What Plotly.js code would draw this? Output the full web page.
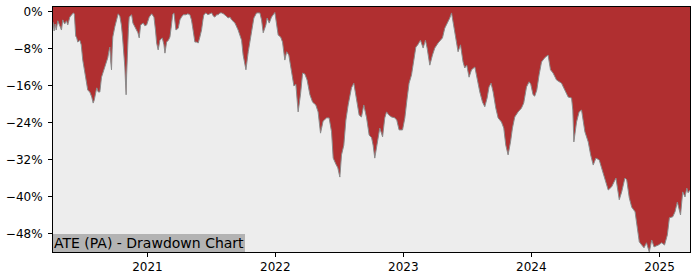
<!DOCTYPE html>
<html>
<head>
<meta charset="utf-8">
<script src="https://cdn.plot.ly/plotly-3.0.1.min.js"></script>
<style>html,body{margin:0;padding:0;background:#fff;}#chart{width:700px;height:280px;}</style>
</head>
<body>
<div id="chart"></div>
<script>
// Dates as decimal years, drawdown in percent
const ddYears = [
2020.264,2020.273,2020.281,2020.289,2020.301,2020.316,2020.330,2020.340,2020.355,2020.369,
2020.379,2020.395,2020.410,2020.422,2020.430,2020.441,2020.449,2020.457,2020.473,2020.484,
2020.496,2020.508,2020.520,2020.527,2020.535,2020.551,2020.566,2020.577,2020.586,2020.598,
2020.605,2020.617,2020.629,2020.642,2020.652,2020.668,2020.684,2020.691,2020.699,2020.707,
2020.713,2020.720,2020.725,2020.730,2020.746,2020.759,2020.772,2020.785,2020.797,2020.806,
2020.816,2020.824,2020.830,2020.834,2020.838,2020.844,2020.852,2020.858,2020.877,2020.887,
2020.898,2020.916,2020.926,2020.936,2020.947,2020.967,2020.980,2020.994,2021.004,2021.014,
2021.033,2021.051,2021.063,2021.072,2021.084,2021.098,2021.116,2021.129,2021.137,2021.150,
2021.164,2021.176,2021.188,2021.197,2021.207,2021.223,2021.241,2021.254,2021.266,2021.280,
2021.301,2021.316,2021.332,2021.344,2021.353,2021.363,2021.371,2021.383,2021.397,2021.410,
2021.423,2021.434,2021.441,2021.457,2021.473,2021.488,2021.502,2021.516,2021.527,2021.541,
2021.553,2021.566,2021.580,2021.594,2021.605,2021.617,2021.631,2021.645,2021.658,2021.684,
2021.709,2021.736,2021.748,2021.770,2021.788,2021.806,2021.832,2021.853,2021.879,2021.892,
2021.905,2021.926,2021.936,2021.952,2021.970,2021.996,2022.009,2022.022,2022.041,2022.056,
2022.074,2022.088,2022.105,2022.127,2022.145,2022.160,2022.178,2022.197,2022.213,2022.230,
2022.248,2022.270,2022.291,2022.316,2022.334,2022.353,2022.373,2022.400,2022.420,2022.439,
2022.452,2022.473,2022.488,2022.504,2022.517,2022.535,2022.551,2022.569,2022.595,2022.613,
2022.634,2022.655,2022.673,2022.691,2022.713,2022.733,2022.752,2022.764,2022.777,2022.795,
2022.816,2022.838,2022.855,2022.869,2022.887,2022.908,2022.934,2022.949,2022.967,2022.994,
2023.012,2023.030,2023.045,2023.064,2023.082,2023.098,2023.113,2023.134,2023.155,2023.173,
2023.186,2023.207,2023.228,2023.246,2023.272,2023.291,2023.306,2023.324,2023.350,2023.363,
2023.377,2023.387,2023.395,2023.410,2023.428,2023.447,2023.467,2023.480,2023.496,2023.514,
2023.533,2023.559,2023.577,2023.598,2023.619,2023.637,2023.655,2023.670,2023.686,2023.702,
2023.723,2023.741,2023.767,2023.785,2023.801,2023.819,2023.838,2023.853,2023.871,2023.897,
2023.923,2023.941,2023.963,2023.983,2023.996,2024.014,2024.027,2024.043,2024.061,2024.080,
2024.105,2024.131,2024.150,2024.170,2024.197,2024.236,2024.262,2024.288,2024.314,2024.324,
2024.332,2024.353,2024.373,2024.392,2024.418,2024.444,2024.463,2024.483,2024.504,2024.530,
2024.548,2024.574,2024.600,2024.627,2024.660,2024.686,2024.705,2024.730,2024.744,2024.764,
2024.783,2024.809,2024.822,2024.842,2024.861,2024.879,2024.898,2024.920,2024.939,2024.957,
2024.973,2024.991,2025.017,2025.039,2025.061,2025.077,2025.103,2025.121,2025.139,2025.155,
2025.164,2025.181,2025.199,2025.213,2025.223,2025.238
];
const ddValues = [
-2.2,-4.1,-2.6,-3.9,-1.9,-3.0,-3.9,-1.7,-2.6,-1.9,
-2.8,-1.1,-0.6,-0.2,-0.4,-5.2,-5.6,-6.5,-6.1,-7.1,
-10.4,-12.5,-15.1,-15.8,-16.9,-17.3,-18.4,-19.7,-19.0,-17.3,
-16.4,-17.3,-17.3,-14.1,-13.2,-11.9,-10.8,-9.9,-8.6,-7.6,
-10.4,-12.5,-8.2,-5.4,-3.2,-1.7,-0.4,-0.9,-2.8,-5.4,
-8.2,-11.9,-15.8,-17.9,-13.6,-8.2,-3.5,-1.1,-0.6,-2.4,
-3.0,-3.9,-4.5,-5.6,-2.8,-2.4,-3.0,-2.8,-1.7,-1.1,
-0.4,-1.1,-3.9,-6.7,-8.2,-6.1,-5.6,-7.1,-8.9,-6.5,
-6.1,-5.4,-2.8,-0.6,-0.2,-3.9,-3.5,-1.7,-1.1,-0.6,
-0.6,-0.4,-0.6,-1.7,-3.2,-5.6,-6.5,-6.5,-6.7,-5.4,
-3.9,-1.7,-0.6,-0.2,-0.6,-0.4,-0.2,-0.9,-1.1,-0.6,
-0.6,-0.2,-0.2,-0.4,-0.6,-0.9,-1.3,-1.1,-1.7,-2.4,
-3.9,-6.1,-9.3,-12.5,-8.6,-5.4,-1.3,-0.2,-0.2,-1.7,
-4.5,-2.8,-1.3,-2.4,-1.1,-0.1,-2.4,-5.0,-5.4,-6.5,
-10.4,-8.6,-9.3,-13.6,-16.0,-15.6,-21.6,-17.7,-13.2,-13.4,
-14.7,-17.9,-19.5,-20.1,-21.6,-26.2,-23.6,-22.9,-22.9,-25.9,
-31.6,-32.9,-33.7,-35.7,-30.9,-28.8,-23.4,-20.1,-16.4,-15.4,
-18.6,-22.3,-22.7,-20.1,-22.9,-26.6,-27.2,-28.8,-31.6,-28.8,
-25.1,-27.0,-22.9,-21.6,-22.3,-22.7,-22.9,-23.4,-25.5,-25.5,
-22.9,-18.6,-15.4,-13.6,-9.9,-7.6,-7.1,-6.1,-7.8,-6.1,
-7.8,-11.5,-9.3,-7.8,-6.7,-6.1,-5.6,-3.5,-2.2,-1.3,
-0.2,-1.7,-3.5,-5.6,-8.6,-7.1,-10.8,-12.1,-11.5,-14.1,
-12.5,-11.9,-14.7,-17.3,-19.5,-20.5,-18.6,-16.2,-15.4,-17.3,
-20.8,-22.9,-23.8,-25.1,-28.8,-30.9,-28.1,-25.1,-22.7,-21.6,
-20.8,-19.7,-16.2,-15.1,-15.6,-17.9,-18.2,-16.9,-13.6,-10.8,
-9.9,-9.3,-12.5,-13.2,-14.7,-15.4,-16.9,-18.4,-18.6,-21.2,
-28.1,-23.8,-21.6,-21.2,-25.9,-28.1,-30.9,-33.1,-31.6,-32.0,
-33.7,-35.9,-38.5,-37.8,-35.9,-40.6,-38.9,-35.9,-36.3,-40.2,
-42.2,-43.2,-46.1,-49.7,-50.4,-51.0,-49.9,-51.9,-49.3,-50.8,
-50.6,-50.4,-49.9,-50.4,-48.2,-44.5,-44.3,-43.2,-41.1,-43.2,
-43.9,-38.9,-40.0,-38.1,-39.1,-38.5
];
const yTickVals = [0, -8, -16, -24, -32, -40, -48];
const yTickText = ["0%", "\u22128%", "\u221216%", "\u221224%", "\u221232%", "\u221240%", "\u221248%"];
const xTickVals = ["2021-01-01", "2022-01-01", "2023-01-01", "2024-01-01", "2025-01-01"];
const xTickText = ["2021", "2022", "2023", "2024", "2025"];
const chartTitle = "ATE (PA) - Drawdown Chart";
const yTop = 1.08, yBottom = -51.9;

function yearToDate(y) {
  const yr = Math.floor(y);
  const s = Date.UTC(yr, 0, 1), e = Date.UTC(yr + 1, 0, 1);
  return new Date(s + (y - yr) * (e - s)).toISOString().slice(0, 19).replace('T', ' ');
}
const ddDates = ddYears.map(yearToDate);
const xStart = ddDates[0], xEnd = ddDates[ddDates.length - 1];

const traces = [
  { x: [xStart, xEnd], y: [yTop + 1, yTop + 1], mode: 'lines', line: { width: 0 }, hoverinfo: 'skip', showlegend: false },
  { x: ddDates, y: ddValues, mode: 'lines', fill: 'tonexty', fillcolor: '#b02f30',
    line: { color: '#8a8a8a', width: 1 }, showlegend: false }
];

const layout = {
  width: 700, height: 280,
  margin: { l: 53, r: 10, t: 7, b: 28, pad: 0 },
  paper_bgcolor: '#ffffff', plot_bgcolor: '#ededed',
  font: { family: 'DejaVu Sans', size: 12, color: '#000' },
  showlegend: false,
  xaxis: {
    type: 'date', range: [xStart, xEnd],
    tickvals: xTickVals, ticktext: xTickText,
    showgrid: false, zeroline: false,
    showline: true, mirror: true, linecolor: '#000', linewidth: 1,
    ticks: 'outside', ticklen: 4, tickcolor: '#000', tickwidth: 1,
    tickfont: { size: 12, family: 'DejaVu Sans', color: '#000' }
  },
  yaxis: {
    range: [yBottom, yTop],
    tickvals: yTickVals, ticktext: yTickText,
    showgrid: false, zeroline: false,
    showline: true, mirror: true, linecolor: '#000', linewidth: 1,
    ticks: 'outside', ticklen: 4, tickcolor: '#000', tickwidth: 1,
    ticklabelstandoff: 3,
    tickfont: { size: 12, family: 'DejaVu Sans', color: '#000' }
  },
  annotations: [{
    text: chartTitle, xref: 'paper', yref: 'paper', x: 0, y: 0,
    xanchor: 'left', yanchor: 'bottom', showarrow: false,
    bgcolor: '#b3b3b3', borderpad: 1, borderwidth: 0,
    font: { family: 'DejaVu Sans', size: 14, color: '#000' }
  }]
};

Plotly.newPlot('chart', traces, layout, { staticPlot: true, displayModeBar: false });
</script>
</body>
</html>
